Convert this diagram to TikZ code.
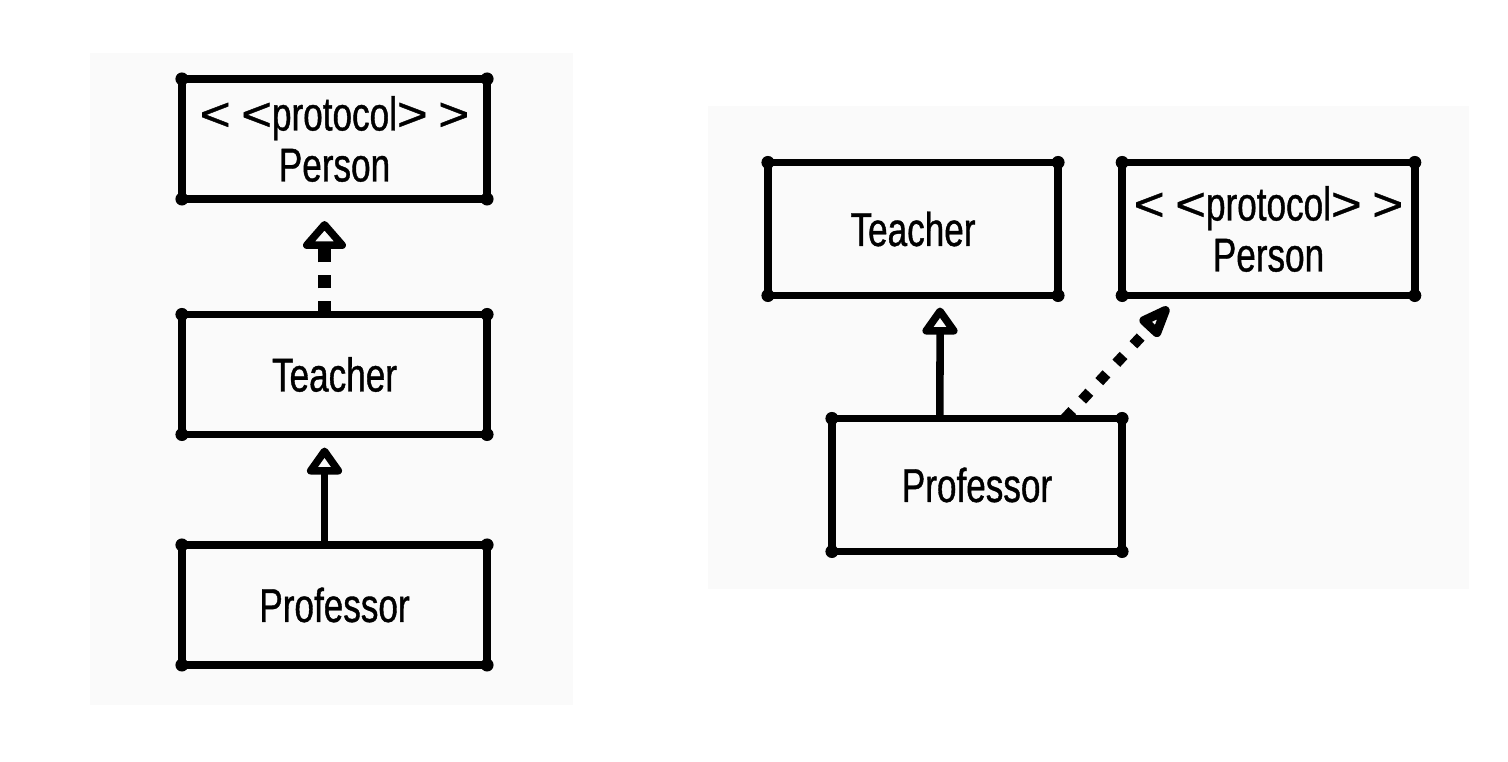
\documentclass[tikz,border=0pt]{standalone}
\usepackage{fontspec}
\setmainfont{Liberation Sans}[FakeStretch=0.74, FakeBold=0.8]
\usetikzlibrary{arrows.meta,positioning}

\newcommand{\wideang}[1]{\scalebox{1.5}[1]{#1}}

\begin{document}
\begin{tikzpicture}[
    x=0.01cm, y=-0.01cm,
    font=\fontsize{13.5}{14.5}\selectfont,
    panel/.style={fill=black!2},
    umlbox/.style={draw, line width=0.075cm, align=center, outer sep=0pt,
                   minimum width=3.05cm, minimum height=1.2cm},
    umlboxR/.style={umlbox, minimum width=2.9cm, minimum height=1.33cm},
    inherit/.style={line width=0.075cm,
                    -{Triangle[open, round, length=0.3cm, width=0.4cm, line width=0.09cm]}},
    realize/.style={line width=0.13cm, dash pattern=on 0.13cm off 0.13cm,
                    -{Triangle[open, round, length=0.3cm, width=0.5cm, line width=0.1cm]}},
    realizeR/.style={line width=0.106cm, dash pattern=on 0.106cm off 0.145cm,
                    -{Triangle[open, round, length=0.4cm, width=0.28cm, line width=0.09cm]}}
]
\useasboundingbox (0,0) rectangle (1508,762);

% background panels
\fill[panel] (90,53) rectangle (573,705);
\fill[panel] (708,106) rectangle (1469,589);

% left: chain
\node[umlbox] (persL) at (334.5,139)
  {\wideang{<}\kern3pt\wideang{<}protocol\wideang{>}\kern3pt\wideang{>}\\Person};
\node[umlbox] (teachL) at (334.5,374.5) {Teacher};
\node[umlbox] (profL) at (334.5,605) {Professor};

% right: two parents
\node[umlboxR] (teachR) at (913,229) {Teacher};
\node[umlboxR] (persR) at (1268.5,229)
  {\wideang{<}\kern3pt\wideang{<}protocol\wideang{>}\kern3pt\wideang{>}\\Person};
\node[umlboxR] (profR) at (977,485) {Professor};

% corner blobs
\foreach \n in {persL,teachL,profL,teachR,persR,profR}
  \foreach \a in {north west,north east,south west,south east}
    \fill (\n.\a) circle (0.065cm);

\draw[realize, shorten >=0.22cm] ([xshift=-0.1cm]teachL.north) -- ([xshift=-0.1cm]persL.south);
\draw[inherit, shorten >=0.13cm] ([xshift=-0.1cm]profL.north) -- ([xshift=-0.1cm]teachL.south);

\draw[inherit, shorten >=0.12cm] ([xshift=-0.37cm]profR.north) -- ([xshift=0.27cm]teachR.south);
\draw[realizeR, shorten >=0.16cm] ([xshift=-0.57cm]profR.north east) -- ([xshift=0.57cm]persR.south west);
\end{tikzpicture}
\end{document}
